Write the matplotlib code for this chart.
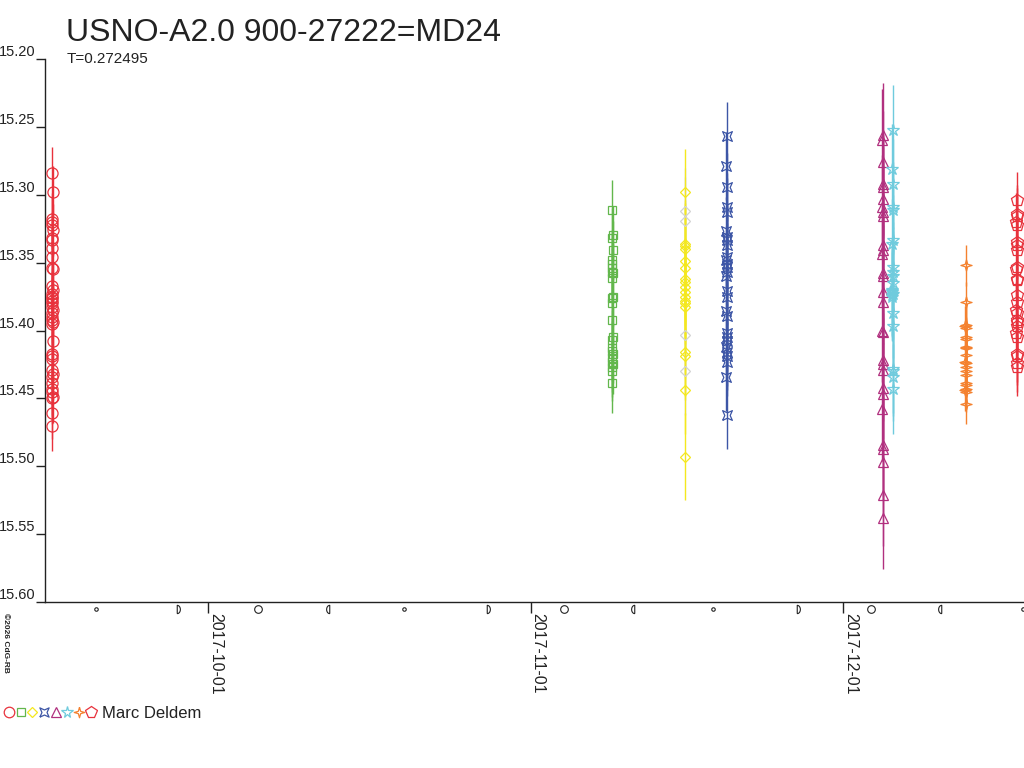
import matplotlib
matplotlib.use('Agg')
import matplotlib.pyplot as plt
import matplotlib.dates as mdates
from matplotlib.lines import Line2D
from matplotlib.legend_handler import HandlerTuple
import numpy as np
import pandas as pd

plt.rcParams['font.family'] = ['Liberation Sans', 'DejaVu Sans']

# --- data: observation times (day of month, UT fraction) and magnitudes ---
t_circle = [15.97, 16.10, 16.03, 15.99, 16.06, 16.08, 16.01, 16.04, 16.05, 15.98,
            16.02, 16.07, 16.00, 16.09, 16.03, 16.05, 15.98, 16.06, 16.01, 16.04,
            16.08, 16.02, 16.00, 16.05, 16.07, 16.03, 16.10, 15.99, 16.04, 16.06,
            16.01, 16.08, 16.03, 15.97, 16.05, 16.02, 16.07, 16.04, 16.00, 16.06]
m_circle = [15.284, 15.298, 15.318, 15.320, 15.322, 15.326, 15.332, 15.333, 15.339, 15.346,
            15.354, 15.355, 15.367, 15.370, 15.373, 15.375, 15.376, 15.378, 15.380, 15.383,
            15.385, 15.387, 15.390, 15.392, 15.394, 15.395, 15.408, 15.417, 15.419, 15.421,
            15.429, 15.432, 15.434, 15.439, 15.443, 15.445, 15.449, 15.450, 15.461, 15.470]
e_circle = 0.019

t_square = [8.80, 8.86, 8.83, 8.88, 8.81, 8.85, 8.84, 8.79, 8.87, 8.82, 8.86, 8.80, 8.84,
            8.83, 8.88, 8.81, 8.85, 8.82, 8.87, 8.84, 8.80, 8.86, 8.83, 8.85, 8.84]
m_square = [15.311, 15.330, 15.332, 15.341, 15.348, 15.351, 15.354, 15.357, 15.358, 15.361,
            15.375, 15.376, 15.380, 15.392, 15.405, 15.407, 15.413, 15.415, 15.417, 15.420,
            15.423, 15.425, 15.427, 15.430, 15.439]
e_square = 0.022

t_diamond = [15.80, 15.84, 15.82, 15.85, 15.79, 15.83, 15.81, 15.86, 15.82, 15.80,
             15.84, 15.83, 15.81, 15.85, 15.82, 15.80, 15.84, 15.83]
m_diamond = [15.298, 15.336, 15.338, 15.340, 15.349, 15.354, 15.362, 15.364, 15.368, 15.372,
             15.375, 15.378, 15.380, 15.383, 15.416, 15.419, 15.444, 15.493]
e_diamond = 0.032

t_grey = [15.78, 15.86, 15.80, 15.79]
m_grey = [15.312, 15.319, 15.403, 15.430]
e_grey = 0.032

t_cross = [19.83, 19.81, 19.84, 19.82, 19.85, 19.80, 19.83, 19.86, 19.82, 19.84,
           19.81, 19.83, 19.85, 19.82, 19.80, 19.84, 19.83, 19.81, 19.85, 19.82,
           19.84, 19.83, 19.80, 19.86, 19.82, 19.84, 19.81, 19.83]
m_cross = [15.257, 15.279, 15.294, 15.309, 15.313, 15.327, 15.331, 15.333, 15.337, 15.346,
           15.348, 15.351, 15.353, 15.357, 15.360, 15.371, 15.375, 15.386, 15.389, 15.402,
           15.405, 15.408, 15.412, 15.416, 15.419, 15.423, 15.434, 15.462]
e_cross = 0.025

t_triangle = [4.81, 4.79, 4.82, 4.80, 4.83, 4.81, 4.78, 4.82, 4.80, 4.84,
              4.81, 4.79, 4.83, 4.80, 4.82, 4.81, 4.79, 4.83, 4.80, 4.82,
              4.81, 4.84, 4.79, 4.82, 4.80, 4.83, 4.81, 4.82, 4.80]
m_triangle = [15.256, 15.260, 15.276, 15.292, 15.294, 15.303, 15.309, 15.313, 15.316, 15.337,
              15.341, 15.344, 15.358, 15.360, 15.372, 15.379, 15.400, 15.422, 15.425, 15.429,
              15.442, 15.447, 15.458, 15.484, 15.487, 15.497, 15.521, 15.538, 15.401]
e_triangle = 0.038

t_star = [5.77, 5.75, 5.78, 5.76, 5.79, 5.77, 5.75, 5.78, 5.76, 5.77, 5.79, 5.74,
          5.75, 5.74, 5.76, 5.75, 5.74, 5.77, 5.78, 5.76, 5.79, 5.77, 5.78]
m_star = [15.252, 15.281, 15.292, 15.309, 15.311, 15.333, 15.336, 15.353, 15.357, 15.360,
          15.365, 15.370, 15.371, 15.372, 15.373, 15.374, 15.375, 15.387, 15.397, 15.428,
          15.430, 15.434, 15.443]
e_star = 0.033

t_sparkle = [12.79, 12.78, 12.80, 12.77, 12.81, 12.79, 12.78, 12.80, 12.79, 12.81, 12.77,
             12.80, 12.78, 12.79, 12.81, 12.78, 12.80, 12.79, 12.77, 12.80, 12.79]
m_sparkle = [15.352, 15.379, 15.396, 15.397, 15.398, 15.405, 15.406, 15.412, 15.413, 15.418,
             15.423, 15.424, 15.427, 15.430, 15.433, 15.439, 15.440, 15.443, 15.444, 15.445,
             15.454]
e_sparkle = 0.015

t_pentagon = [17.68, 17.67, 17.69, 17.66, 17.70, 17.68, 17.67, 17.69, 17.68, 17.66, 17.70, 17.67,
              17.69, 17.68, 17.66, 17.70, 17.67, 17.68, 17.69, 17.66, 17.68, 17.70, 17.67, 17.69, 17.68]
m_pentagon = [15.304, 15.314, 15.316, 15.320, 15.322, 15.335, 15.337, 15.341, 15.353, 15.355,
              15.362, 15.363, 15.374, 15.379, 15.385, 15.387, 15.392, 15.394, 15.397, 15.402,
              15.405, 15.417, 15.419, 15.424, 15.427]
e_pentagon = 0.021

moon_new = ['2017-09-20 05:30', '2017-10-19 19:12', '2017-11-18 11:42', '2017-12-18 06:30']
moon_fq = ['2017-09-28 02:53', '2017-10-27 22:22', '2017-11-26 17:03']
moon_full = ['2017-10-05 18:40', '2017-11-04 05:23', '2017-12-03 15:47']
moon_lq = ['2017-10-12 12:25', '2017-11-10 20:36', '2017-12-10 07:51']

y_ticks = [15.20, 15.25, 15.30, 15.35, 15.40, 15.45, 15.50, 15.55, 15.60]


def night(month, days):
    base = pd.Timestamp(2017, month, 1)
    return (base + pd.to_timedelta(np.array(days) - 1.0, unit='D')).to_pydatetime()


# custom marker shapes
star4 = [(-1, -1), (0, -0.55), (1, -1), (0.55, 0), (1, 1), (0, 0.55), (-1, 1), (-0.55, 0), (-1, -1)]
sparkle = [(0, 1), (0.22, 0.22), (1, 0), (0.22, -0.22), (0, -1), (-0.22, -0.22),
           (-1, 0), (-0.22, 0.22), (0, 1)]
ang = np.radians(np.linspace(-90, 90, 15))
fq_shape = [(-0.3, -1)] + [(-0.3 + 0.75 * np.cos(a), np.sin(a)) for a in ang] + [(-0.3, 1), (-0.3, -1)]
lq_shape = [(-x, y) for x, y in fq_shape]

RED = '#E8323C'
series = [
    (night(9, t_circle), m_circle, e_circle, RED, 'o', 8),
    (night(11, t_square), m_square, e_square, '#62B74C', 's', 6),
    (night(11, t_grey), m_grey, e_grey, '#D3D3D3', 'D', 5.5),
    (night(11, t_diamond), m_diamond, e_diamond, '#F4E81E', 'D', 5.5),
    (night(11, t_cross), m_cross, e_cross, '#3D56A6', star4, 7),
    (night(12, t_triangle), m_triangle, e_triangle, '#B1307F', '^', 7.5),
    (night(12, t_star), m_star, e_star, '#6FCBDD', '*', 9),
    (night(12, t_sparkle), m_sparkle, e_sparkle, '#F4812F', sparkle, 8),
    (night(12, t_pentagon), m_pentagon, e_pentagon, RED, 'p', 9),
]

fig = plt.figure(figsize=(10.24, 7.68), dpi=100)
ax = fig.add_axes([45 / 1024, 1 - 602 / 768, 1 - 45 / 1024, (602 - 59) / 768])

legend_handles = []
for x, m, e, c, mk, ms in series:
    ax.errorbar(x, m, yerr=e, fmt='none', ecolor=c, elinewidth=1.0, zorder=2)
    ax.plot(x, m, ls='none', marker=mk, ms=ms, mfc='none', mec=c, mew=0.9, zorder=3)
    if c != '#D3D3D3':
        legend_handles.append(Line2D([], [], ls='none', marker=mk, ms=ms * 0.95,
                                     mfc='none', mec=c, mew=0.9))

ax.set_xlim(pd.Timestamp('2017-09-15 08:10').to_pydatetime(),
            pd.Timestamp('2017-12-18 09:22').to_pydatetime())
ax.set_ylim(15.60, 15.20)

# moon phases along the time axis
tr = ax.get_xaxis_transform()
for dates, mk, ms in [(moon_new, 'o', 2.5), (moon_full, 'o', 5.5),
                      (moon_fq, fq_shape, 6), (moon_lq, lq_shape, 6)]:
    d = pd.to_datetime(dates).to_pydatetime()
    ax.plot(d, [-0.012] * len(d), transform=tr, ls='none', marker=mk, ms=ms,
            mfc='none', mec='#222222', mew=0.8, clip_on=False)

ax.xaxis.set_major_locator(mdates.MonthLocator())
ax.xaxis.set_major_formatter(mdates.DateFormatter('%Y-%m-%d'))
ax.set_yticks(y_ticks)
ax.yaxis.set_major_formatter(matplotlib.ticker.FormatStrFormatter('%.2f'))

ax.tick_params(axis='x', length=8, width=1, pad=0, labelsize=11.5, colors='#222222')
ax.tick_params(axis='y', length=6.5, width=1, pad=0.5, labelsize=10.5, colors='#222222')
plt.setp(ax.get_xticklabels(), rotation=-90, ha='left', va='top')
plt.setp(ax.get_yticklabels(), va='bottom')

for s in ['top', 'right']:
    ax.spines[s].set_visible(False)
for s in ['left', 'bottom']:
    ax.spines[s].set_color('#222222')
    ax.spines[s].set_linewidth(1.0)

fig.text(66 / 1024, 1 - 41 / 768, 'USNO-A2.0 900-27222=MD24', fontsize=23,
         color='#222222', va='baseline')
fig.text(67 / 1024, 1 - 63 / 768, 'T=0.272495', fontsize=11, color='#222222', va='baseline')
fig.text(2 / 1024, 1 - 613 / 768, '©2026 CdG-RB', rotation=-90, fontsize=6,
         fontweight='bold', ha='left', va='top', color='#222222')

fig.legend(handles=[tuple(legend_handles)], labels=['Marc Deldem'],
           handler_map={tuple: HandlerTuple(ndivide=None, pad=0.0)},
           loc='center left', bbox_to_anchor=(0.0, 1 - 713 / 768), frameon=False,
           fontsize=12, handlelength=5.6, handletextpad=0.35, borderpad=0.2,
           borderaxespad=0.0, labelcolor='#222222')

fig.savefig('out.png', dpi=100)
